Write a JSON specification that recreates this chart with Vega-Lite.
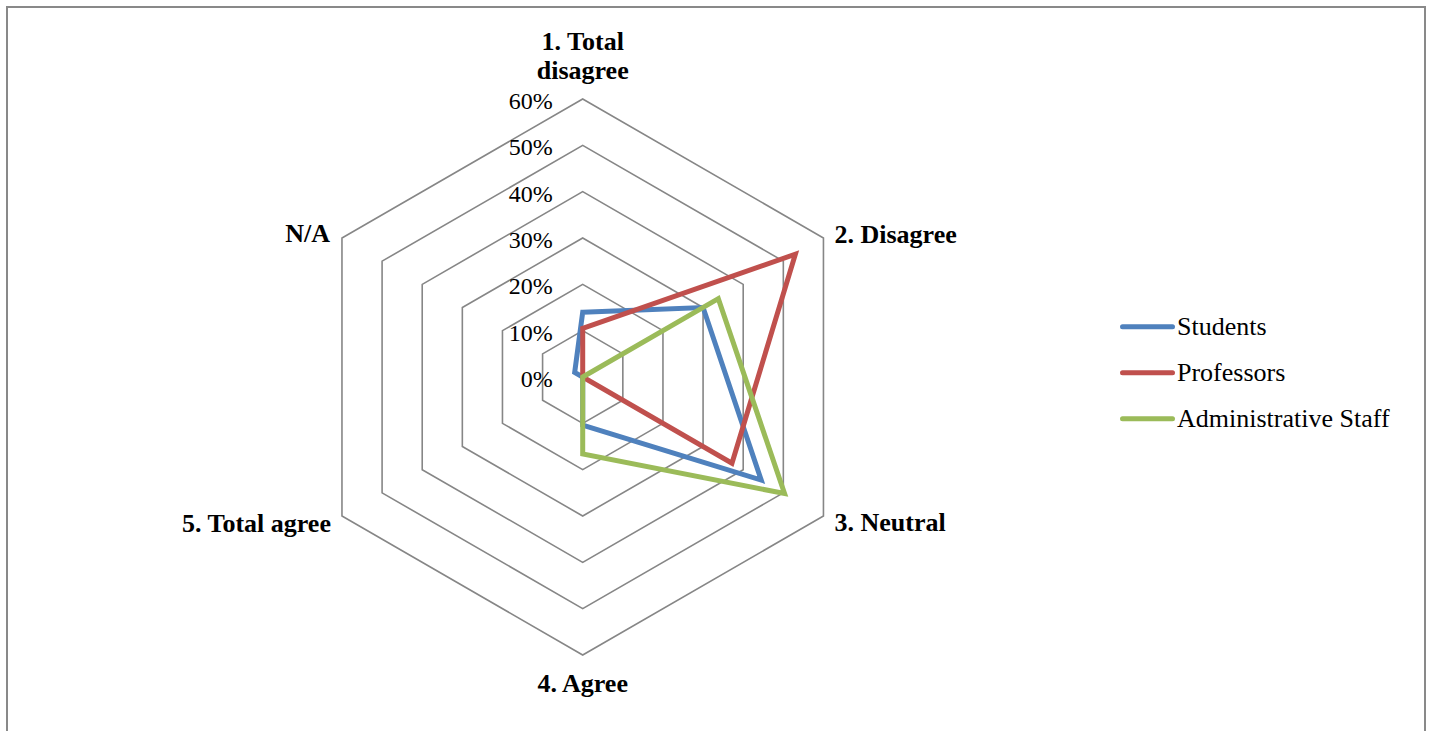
{
  "$schema": "https://vega.github.io/schema/vega-lite/v6.json",
  "width": 1418,
  "height": 730,
  "autosize": {"type": "none"},
  "padding": {"left": 7, "top": 7, "right": 7, "bottom": 0},
  "background": "white",
  "config": {
    "view": {"stroke": "#898989", "strokeWidth": 2},
    "font": "Liberation Serif"
  },
  "datasets": {
    "cats": [
      {"idx": 0, "label": "1. Total\ndisagree", "levels": [0.1, 0.2, 0.3, 0.4, 0.5, 0.6]},
      {"idx": 1, "label": "2. Disagree", "levels": [0.1, 0.2, 0.3, 0.4, 0.5, 0.6]},
      {"idx": 2, "label": "3. Neutral", "levels": [0.1, 0.2, 0.3, 0.4, 0.5, 0.6]},
      {"idx": 3, "label": "4. Agree", "levels": [0.1, 0.2, 0.3, 0.4, 0.5, 0.6]},
      {"idx": 4, "label": "5. Total agree", "levels": [0.1, 0.2, 0.3, 0.4, 0.5, 0.6]},
      {"idx": 5, "label": "N/A", "levels": [0.1, 0.2, 0.3, 0.4, 0.5, 0.6]}
    ],
    "ticks": [
      {"level": 0}, {"level": 0.1}, {"level": 0.2}, {"level": 0.3},
      {"level": 0.4}, {"level": 0.5}, {"level": 0.6}
    ],
    "series": [
      {"group": "Students", "category": "1. Total disagree", "idx": 0, "value": 0.14},
      {"group": "Students", "category": "2. Disagree", "idx": 1, "value": 0.30},
      {"group": "Students", "category": "3. Neutral", "idx": 2, "value": 0.445},
      {"group": "Students", "category": "4. Agree", "idx": 3, "value": 0.104},
      {"group": "Students", "category": "5. Total agree", "idx": 4, "value": 0},
      {"group": "Students", "category": "N/A", "idx": 5, "value": 0.02},
      {"group": "Professors", "category": "1. Total disagree", "idx": 0, "value": 0.105},
      {"group": "Professors", "category": "2. Disagree", "idx": 1, "value": 0.53},
      {"group": "Professors", "category": "3. Neutral", "idx": 2, "value": 0.372},
      {"group": "Professors", "category": "4. Agree", "idx": 3, "value": 0},
      {"group": "Professors", "category": "5. Total agree", "idx": 4, "value": 0},
      {"group": "Professors", "category": "N/A", "idx": 5, "value": 0},
      {"group": "Administrative Staff", "category": "1. Total disagree", "idx": 0, "value": 0},
      {"group": "Administrative Staff", "category": "2. Disagree", "idx": 1, "value": 0.338},
      {"group": "Administrative Staff", "category": "3. Neutral", "idx": 2, "value": 0.503},
      {"group": "Administrative Staff", "category": "4. Agree", "idx": 3, "value": 0.166},
      {"group": "Administrative Staff", "category": "5. Total agree", "idx": 4, "value": 0},
      {"group": "Administrative Staff", "category": "N/A", "idx": 5, "value": 0}
    ]
  },
  "encoding": {
    "x": {"field": "x", "type": "quantitative", "scale": {"domain": [-1.2426, 1.818], "nice": false, "zero": false}, "axis": null},
    "y": {"field": "y", "type": "quantitative", "scale": {"domain": [-0.777, 0.7986], "nice": false, "zero": false}, "axis": null}
  },
  "layer": [
    {
      "data": {"name": "cats"},
      "transform": [
        {"flatten": ["levels"], "as": ["level"]},
        {"calculate": "datum.level*sin(datum.idx*PI/3)", "as": "x"},
        {"calculate": "datum.level*cos(datum.idx*PI/3)", "as": "y"}
      ],
      "mark": {"type": "line", "interpolate": "linear-closed", "stroke": "#868686", "strokeWidth": 1.6},
      "encoding": {
        "detail": {"field": "level", "type": "nominal"},
        "order": {"field": "idx", "type": "quantitative"}
      }
    },
    {
      "data": {"name": "cats"},
      "transform": [
        {"flatten": ["levels"], "as": ["level"]},
        {"filter": "datum.level == 0.6"},
        {"calculate": "datum.level*sin(datum.idx*PI/3)", "as": "x2"},
        {"calculate": "datum.level*cos(datum.idx*PI/3)", "as": "y2"}
      ],
      "mark": {"type": "rule", "stroke": "#868686", "strokeWidth": 1.6},
      "encoding": {
        "x": {"datum": 0, "type": "quantitative"},
        "y": {"datum": 0, "type": "quantitative"},
        "x2": {"field": "x2"},
        "y2": {"field": "y2"}
      }
    },
    {
      "data": {"name": "series"},
      "transform": [
        {"calculate": "datum.value*sin(datum.idx*PI/3)", "as": "x"},
        {"calculate": "datum.value*cos(datum.idx*PI/3)", "as": "y"}
      ],
      "mark": {"type": "line", "interpolate": "linear-closed", "strokeWidth": 5},
      "encoding": {
        "color": {
          "field": "group",
          "type": "nominal",
          "sort": ["Students", "Professors", "Administrative Staff"],
          "scale": {"domain": ["Students", "Professors", "Administrative Staff"], "range": ["#4F81BD", "#C0504D", "#9BBB59"]},
          "legend": {
            "title": null,
            "orient": "none",
            "legendX": 1113,
            "legendY": 297,
            "padding": 0,
            "symbolType": "stroke",
            "symbolSize": 2500,
            "symbolStrokeWidth": 5,
            "clipHeight": 45.5,
            "rowPadding": 0,
            "labelFont": "Liberation Serif",
            "labelFontSize": 26,
            "labelColor": "black",
            "labelOffset": 2,
            "labelLimit": 400,
            "encode": {"symbols": {"update": {"strokeCap": {"value": "round"}}}}
          }
        },
        "order": {"field": "idx", "type": "quantitative"}
      }
    },
    {
      "data": {"name": "ticks"},
      "transform": [
        {"calculate": "0", "as": "x"},
        {"calculate": "datum.level", "as": "y"}
      ],
      "mark": {"type": "text", "align": "right", "baseline": "alphabetic", "dx": -30, "dy": 10, "fontSize": 24, "font": "Liberation Serif", "color": "black"},
      "encoding": {"text": {"field": "level", "type": "quantitative", "format": ".0%"}}
    },
    {
      "data": {"name": "cats"},
      "transform": [
        {"filter": "datum.idx == 0"},
        {"calculate": "0.6*sin(datum.idx*PI/3)", "as": "x"},
        {"calculate": "0.6*cos(datum.idx*PI/3)", "as": "y"}
      ],
      "mark": {"type": "text", "align": "center", "baseline": "alphabetic", "dy": -49, "lineBreak": "\n", "lineHeight": 29, "fontSize": 26, "fontWeight": "bold", "font": "Liberation Serif", "color": "black"},
      "encoding": {"text": {"field": "label"}}
    },
    {
      "data": {"name": "cats"},
      "transform": [
        {"filter": "datum.idx == 1"},
        {"calculate": "0.6*sin(datum.idx*PI/3)", "as": "x"},
        {"calculate": "0.6*cos(datum.idx*PI/3)", "as": "y"}
      ],
      "mark": {"type": "text", "align": "left", "baseline": "alphabetic", "dx": 11, "dy": 5, "fontSize": 26, "fontWeight": "bold", "font": "Liberation Serif", "color": "black"},
      "encoding": {"text": {"field": "label"}}
    },
    {
      "data": {"name": "cats"},
      "transform": [
        {"filter": "datum.idx == 2"},
        {"calculate": "0.6*sin(datum.idx*PI/3)", "as": "x"},
        {"calculate": "0.6*cos(datum.idx*PI/3)", "as": "y"}
      ],
      "mark": {"type": "text", "align": "left", "baseline": "alphabetic", "dx": 11, "dy": 15, "fontSize": 26, "fontWeight": "bold", "font": "Liberation Serif", "color": "black"},
      "encoding": {"text": {"field": "label"}}
    },
    {
      "data": {"name": "cats"},
      "transform": [
        {"filter": "datum.idx == 3"},
        {"calculate": "0.6*sin(datum.idx*PI/3)", "as": "x"},
        {"calculate": "0.6*cos(datum.idx*PI/3)", "as": "y"}
      ],
      "mark": {"type": "text", "align": "center", "baseline": "alphabetic", "dy": 37, "fontSize": 26, "fontWeight": "bold", "font": "Liberation Serif", "color": "black"},
      "encoding": {"text": {"field": "label"}}
    },
    {
      "data": {"name": "cats"},
      "transform": [
        {"filter": "datum.idx == 4"},
        {"calculate": "0.6*sin(datum.idx*PI/3)", "as": "x"},
        {"calculate": "0.6*cos(datum.idx*PI/3)", "as": "y"}
      ],
      "mark": {"type": "text", "align": "right", "baseline": "alphabetic", "dx": -11, "dy": 16, "fontSize": 26, "fontWeight": "bold", "font": "Liberation Serif", "color": "black"},
      "encoding": {"text": {"field": "label"}}
    },
    {
      "data": {"name": "cats"},
      "transform": [
        {"filter": "datum.idx == 5"},
        {"calculate": "0.6*sin(datum.idx*PI/3)", "as": "x"},
        {"calculate": "0.6*cos(datum.idx*PI/3)", "as": "y"}
      ],
      "mark": {"type": "text", "align": "right", "baseline": "alphabetic", "dx": -12, "dy": 4, "fontSize": 26, "fontWeight": "bold", "font": "Liberation Serif", "color": "black"},
      "encoding": {"text": {"field": "label"}}
    }
  ]
}
